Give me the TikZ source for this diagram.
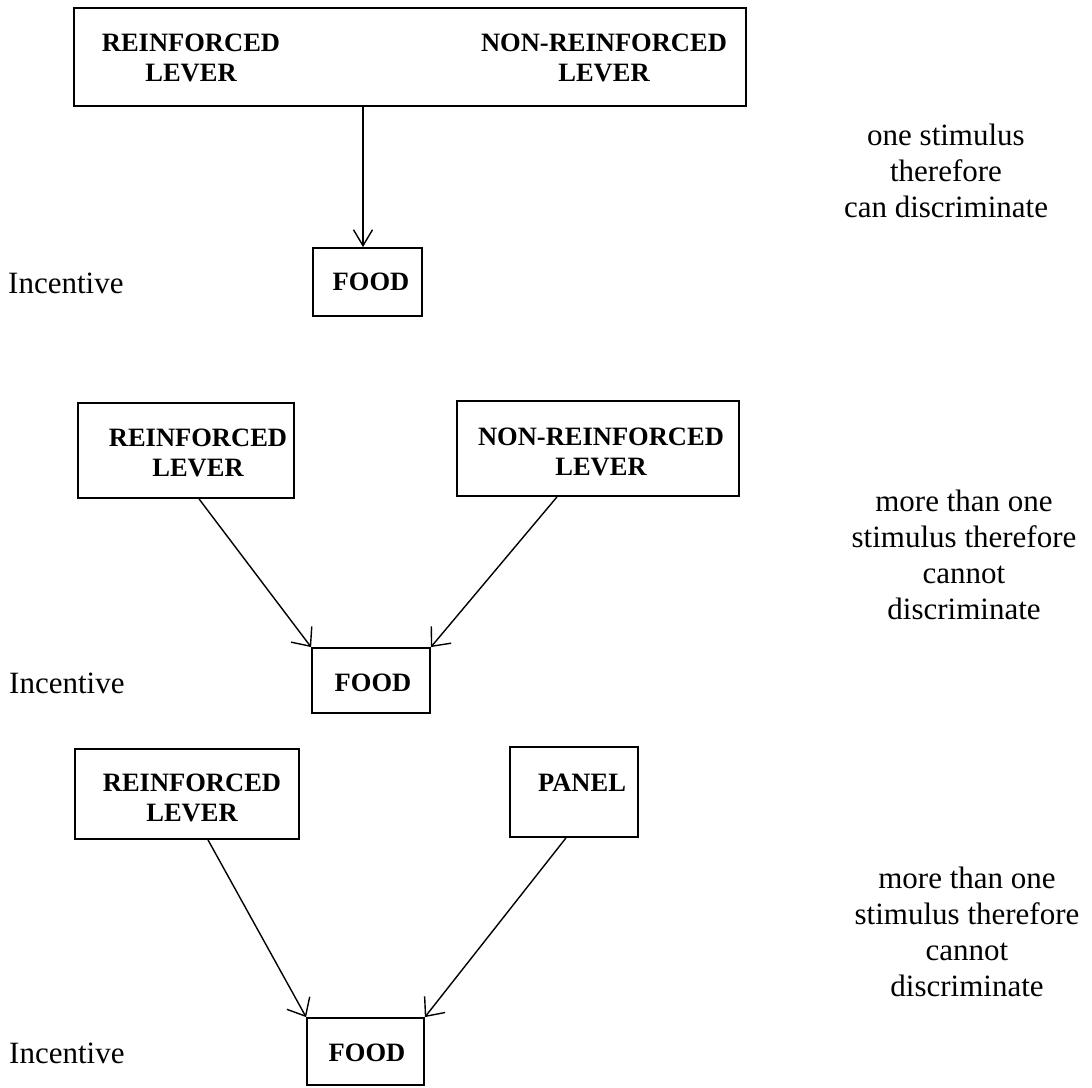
\documentclass[tikz,border=0pt]{standalone}
\usepackage{fontspec}
\setmainfont{Liberation Serif}
\usetikzlibrary{arrows.meta}
\begin{document}
\begin{tikzpicture}[x=1pt,y=-1pt,
  box/.style={draw, line width=1.8pt, inner sep=0pt},
  lbl/.style={font=\fontsize{26.5}{30}\selectfont\bfseries, align=center, inner sep=0pt},
  plain/.style={font=\fontsize{31}{36}\selectfont, align=center, inner sep=0pt},
  conn/.style={line width=1.4pt},
  arr/.style={conn, -{Straight Barb[length=15pt,width=26pt]}},
  arrnarrow/.style={conn, -{Straight Barb[length=16pt,width=19pt]}}]
\fill[white] (0,0) rectangle (1092,1087);
\useasboundingbox (0,0) rectangle (1092,1087);

% ---------- section 1 ----------
\node[box, minimum width=671.5pt, minimum height=98pt] (tb) at (410,57) {};
\node[lbl] (tbl) at (191,58) {REINFORCED\\LEVER};
\node[lbl] (tbr) at (604,58) {NON-REINFORCED\\LEVER};
\node[box, minimum width=109pt, minimum height=68pt] (tf) at (367.5,282) {};
\node[lbl] (tft) at (371,282) {FOOD};
\node[plain, anchor=west] (ti) at (8,283) {Incentive};
\node[plain] (tn) at (946,171) {one stimulus\\therefore\\can discriminate};
\coordinate (tend) at ([xshift=-4.5pt]tf.north);
\draw[arrnarrow] (tb.south -| tend) -- (tend);

% ---------- section 2 ----------
\node[box, minimum width=216pt, minimum height=95pt] (ml) at (186,450.5) {};
\node[lbl] (mlt) at (198,453) {REINFORCED\\LEVER};
\node[box, minimum width=282pt, minimum height=95pt] (mr) at (598,448.5) {};
\node[lbl] (mrt) at (601,452) {NON-REINFORCED\\LEVER};
\node[box, minimum width=118pt, minimum height=65pt] (mf) at (371,680.5) {};
\node[lbl] (mft) at (373,683) {FOOD};
\node[plain, anchor=west] (mi) at (9,683) {Incentive};
\node[plain] (mn) at (964,555) {more than one\\stimulus therefore\\cannot\\discriminate};
\draw[arr] ([xshift=13pt]ml.south) -- (mf.north west);
\draw[arr] ([xshift=-41pt]mr.south) -- (mf.north east);

% ---------- section 3 ----------
\node[box, minimum width=224pt, minimum height=90pt] (bl) at (187,794) {};
\node[lbl] (blt) at (192,798) {REINFORCED\\LEVER};
\node[box, minimum width=128pt, minimum height=90pt] (bp) at (574,792) {};
\node[lbl] (bpt) at (582,783) {PANEL};
\node[box, minimum width=117pt, minimum height=67pt] (bf) at (365.5,1051.5) {};
\node[lbl] (bft) at (367,1053) {FOOD};
\node[plain, anchor=west] (bi) at (9,1053) {Incentive};
\node[plain] (bn) at (967,932) {more than one\\stimulus therefore\\cannot\\discriminate};
\draw[arr] ([xshift=21pt]bl.south) -- (bf.north west);
\draw[arr] ([xshift=-8pt]bp.south) -- (bf.north east);
\end{tikzpicture}
\end{document}
